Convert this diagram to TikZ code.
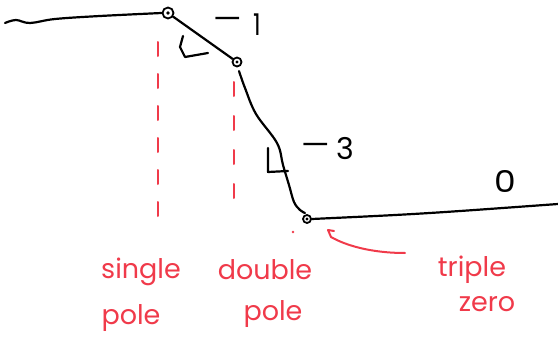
\documentclass[tikz,border=0pt]{standalone}
\usepackage{fontspec}
\setmainfont{Poppins}
\definecolor{penred}{RGB}{240,58,74}
\tikzset{
  ink/.style={black, line width=2.2pt, line cap=round, line join=round},
  redink/.style={penred, line width=2pt, line cap=round, line join=round},
  polept/.style={circle, draw=black, line width=1.8pt, inner sep=0pt},
  lbl/.style={penred, font=\fontsize{27}{30}\selectfont, inner sep=0pt},
  slope/.style={black, font=\fontsize{30}{32}\selectfont, inner sep=0pt}
}
\begin{document}
\begin{tikzpicture}[x=1pt,y=-1pt]
\useasboundingbox (0,0) rectangle (558,348);
% points
\node[polept, minimum size=11pt] (p1) at (168,13) {};
\node[polept, minimum size=9pt] (p2) at (237,62) {};
\node[polept, minimum size=8pt] (p3) at (307,219) {};
\fill (p1.center) circle (1.8pt);
\fill (p2.center) circle (1.7pt);
\fill (p3.center) circle (1.7pt);
\coordinate (rend) at (558,204);
% curve
\draw[ink] plot[smooth, tension=0.6] coordinates {(5,23) (16,20) (30,23) (55,19) (100,16) (p1.west)};
\draw[ink] (p1) -- (p2);
\draw[ink] plot[smooth, tension=0.6] coordinates {(239,71) (245,88) (256,114) (277,143) (283,165) (289,185) (294,202) (300,210) (305,213)};
\draw[ink] (p3.east) .. controls (420,214) .. (rend);
% slope marks
\draw[ink] (183,36) -- (180,47) -- (185,57) -- (208,53);
\draw[ink] (268,148) -- (268,172) -- (288,171);
\node[slope, xscale=1.5] (s1m) at (228,23) {–};
\node[slope, xscale=0.8] (s1) at (257,25) {1};
\node[slope, xscale=1.5] (s3m) at (316,149) {–};
\node[slope] (s3) at (345,149) {3};
\node[slope, xscale=1.15] (s0) at (505,181) {0};
% dashed verticals
\draw[redink, dash pattern=on 14pt off 18pt] (158,42) -- (158,226);
\draw[redink, dash pattern=on 14pt off 20pt] (234,82) -- (234,208);
\fill[penred] (293,232) circle (1.3pt);
% arrow
\coordinate (atip) at (328,230);
\draw[redink] (405,253) .. controls (370,253) and (345,245) .. (331,237) -- (atip) -- (334,231);
% labels
\node[lbl] (l1a) at (141,272) {single};
\node[lbl] (l1b) at (131,318) {pole};
\node[lbl] (l2a) at (265,270) {double};
\node[lbl] (l2b) at (273,314) {pole};
\node[lbl] (l3a) at (472,270) {triple};
\node[lbl] (l3b) at (487,304) {zero};
\end{tikzpicture}
\end{document}
